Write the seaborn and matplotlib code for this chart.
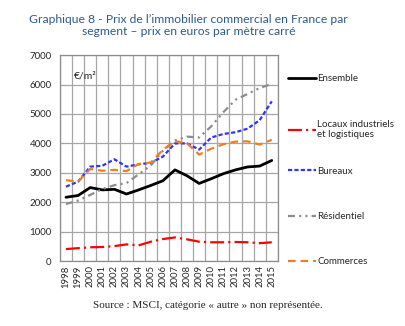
import matplotlib
matplotlib.use("Agg")
import matplotlib.pyplot as plt
import seaborn as sns
import pandas as pd
import numpy as np

years = [str(y) for y in range(1998, 2016)]
ensemble = [2170, 2230, 2500, 2420, 2440, 2280, 2420, 2570, 2730, 3100, 2900, 2640, 2800, 2970, 3100, 3200, 3230, 3420]
locaux = [410, 440, 470, 480, 510, 570, 535, 660, 750, 805, 740, 660, 640, 640, 650, 640, 610, 640]
bureaux = [2530, 2700, 3210, 3240, 3460, 3210, 3290, 3340, 3550, 4000, 4000, 3790, 4200, 4320, 4380, 4500, 4790, 5430]
residentiel = [1940, 2060, 2250, 2450, 2580, 2650, 2950, 3250, 3750, 4100, 4230, 4200, 4580, 5060, 5480, 5680, 5880, 6020]
commerces = [2750, 2700, 3130, 3070, 3100, 3060, 3300, 3350, 3780, 4080, 4000, 3620, 3820, 3970, 4060, 4070, 3960, 4120]

labels = ["Ensemble", "Locaux industriels\net logistiques", "Bureaux", "Résidentiel", "Commerces"]
series = [ensemble, locaux, bureaux, residentiel, commerces]
colors = ["#000000", "#FF0000", "#3333FF", "#8C8C8C", "#F07F1E"]
dash_styles = [(None, None), (0, (10, 3, 1.5, 3)), (0, (3, 1.6)), (0, (5, 3, 1.5, 3, 1.5, 3)), (0, (5.5, 3.5))]
widths = [2.0, 1.6, 1.6, 1.6, 1.6]

sns.set_style("white")
plt.rcParams['font.family'] = ['Lato', 'DejaVu Sans']
plt.rcParams['lines.scale_dashes'] = False

fig = plt.figure(figsize=(4.05, 3.26), dpi=100)
ax = fig.add_axes([0.148, 0.199, 0.538, 0.632])

xpos = np.arange(len(years))
for lab, vals, c, ds, lw in zip(labels, series, colors, dash_styles, widths):
    df = pd.DataFrame({"x": xpos, "y": vals})
    sns.lineplot(data=df, x="x", y="y", ax=ax, color=c, linewidth=lw, label=lab)
    line = ax.get_lines()[-1]
    if ds[0] is not None:
        line.set_linestyle(ds)

ax.set_xlim(-0.5, len(years) - 0.5)
ax.set_ylim(0, 7000)
ax.set_yticks(range(0, 7001, 1000))
ax.set_yticklabels([str(v) for v in range(0, 7001, 1000)], fontsize=7)
ax.set_xticks(xpos)
ax.set_xticklabels(years, rotation=90, fontsize=6.8)
ax.set_xticks(np.arange(-0.5, len(years), 1), minor=True)
ax.tick_params(axis='x', which='major', length=0, pad=3)
ax.tick_params(axis='x', which='minor', length=3, color='#888888', width=0.8)
ax.tick_params(axis='y', length=3, color='#888888', width=0.8, pad=3)
ax.grid(False)
ax.grid(True, axis='y', which='major', color='#A6A6A6', linewidth=0.9)
ax.grid(True, axis='x', which='minor', color='#A6A6A6', linewidth=0.9)
ax.set_axisbelow(True)
for s in ax.spines.values():
    s.set_color('#8C8C8C')
    s.set_linewidth(0.9)
ax.set_xlabel("")
ax.set_ylabel("")

ax.text(0.065, 0.92, "€/m²", transform=ax.transAxes, fontsize=7.5, va='top', ha='left')

handles, labs = ax.get_legend_handles_labels()
leg_kw = dict(frameon=False, fontsize=7, handlelength=2.9, handletextpad=0.1,
              labelspacing=3.75, borderaxespad=0)
leg1 = ax.legend(handles[:2], labs[:2], loc='upper left', bbox_to_anchor=(1.03, 0.925), **leg_kw)
ax.add_artist(leg1)
leg2 = ax.legend(handles[2:], labs[2:], loc='upper left', bbox_to_anchor=(1.03, 0.478), **leg_kw)

fig.text(0.465, 0.922, "Graphique 8 - Prix de l’immobilier commercial en France par\nsegment – prix en euros par mètre carré",
         ha='center', va='center', fontsize=8.7, color='#2E5A8C', linespacing=1.15)
fig.text(0.514, 0.064, "Source : MSCI, catégorie « autre » non représentée.", ha='center', va='center',
         fontsize=8, family=['Liberation Serif', 'DejaVu Serif'])

fig.savefig("out.png", dpi=100)
